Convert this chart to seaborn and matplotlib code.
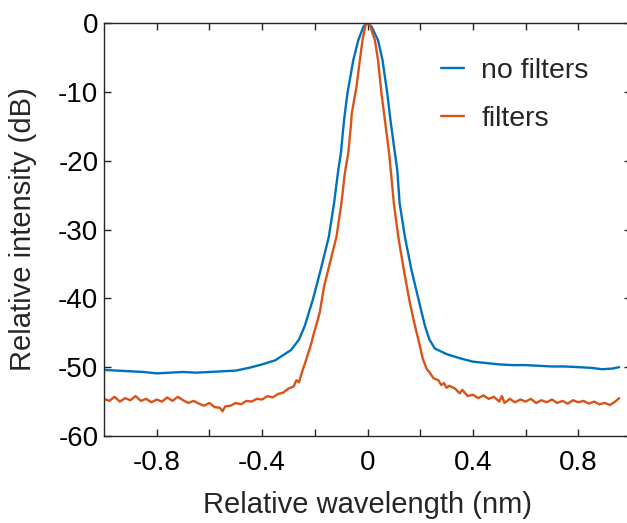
import numpy as np
import pandas as pd
import matplotlib
matplotlib.use("Agg")
import matplotlib.pyplot as plt
import seaborn as sns

# ---- data ----
nofilt_x = [-1.00, -0.95, -0.90, -0.85, -0.80, -0.75, -0.70, -0.65, -0.60, -0.55,
            -0.50, -0.45, -0.40, -0.35, -0.29, -0.26, -0.238, -0.206, -0.178, -0.147,
            -0.127, -0.111, -0.101, -0.089, -0.076, -0.054, -0.035, -0.015, 0.0, 0.015,
            0.04, 0.057, 0.075, 0.087, 0.104, 0.113, 0.122, 0.142, 0.167, 0.197,
            0.218, 0.235, 0.256, 0.30, 0.35, 0.40, 0.45, 0.50, 0.55, 0.60,
            0.65, 0.70, 0.75, 0.80, 0.85, 0.89, 0.93, 0.955]
nofilt_y = [-50.4, -50.5, -50.6, -50.7, -50.9, -50.8, -50.7, -50.8, -50.7, -50.6,
            -50.5, -50.1, -49.6, -49.0, -47.5, -46.0, -44.0, -40.0, -35.9, -31.1,
            -26.2, -21.4, -18.9, -14.1, -10.2, -5.4, -2.5, -0.5, 0.0, -0.5,
            -2.5, -5.4, -10.2, -14.1, -18.9, -21.4, -26.2, -31.1, -35.9, -40.7,
            -44.0, -46.0, -47.3, -48.1, -48.7, -49.2, -49.4, -49.6, -49.7, -49.7,
            -49.8, -49.9, -49.9, -50.0, -50.1, -50.3, -50.2, -50.0]

filt_x = [-1.00, -0.98, -0.96, -0.94, -0.92, -0.90, -0.88, -0.86, -0.84, -0.82,
          -0.80, -0.78, -0.76, -0.74, -0.72, -0.70, -0.68, -0.66, -0.64, -0.62,
          -0.60, -0.58, -0.56, -0.55, -0.54, -0.52, -0.50, -0.48, -0.46, -0.44,
          -0.42, -0.40, -0.38, -0.36, -0.34, -0.32, -0.30, -0.28, -0.27, -0.26,
          -0.25, -0.23, -0.213, -0.203, -0.19, -0.181, -0.165, -0.143, -0.118, -0.099,
          -0.086, -0.073, -0.062, -0.060, -0.042, -0.029, -0.019, -0.008, 0.0, 0.01,
          0.028, 0.04, 0.053, 0.066, 0.082, 0.091, 0.10, 0.117, 0.138, 0.161,
          0.177, 0.193, 0.21, 0.224, 0.24, 0.25, 0.269, 0.28, 0.29, 0.30,
          0.31, 0.332, 0.35, 0.36, 0.38, 0.40, 0.42, 0.44, 0.46, 0.48,
          0.50, 0.51, 0.52, 0.54, 0.56, 0.58, 0.60, 0.62, 0.64, 0.66,
          0.68, 0.70, 0.72, 0.74, 0.76, 0.78, 0.80, 0.82, 0.84, 0.86,
          0.88, 0.90, 0.92, 0.94, 0.955]
filt_y = [-54.6, -54.9, -54.3, -55.0, -54.5, -54.8, -54.2, -54.9, -54.6, -55.1,
          -54.7, -55.0, -54.4, -54.9, -54.3, -54.8, -55.2, -54.9, -55.3, -55.6,
          -55.2, -55.8, -55.9, -56.4, -55.7, -55.6, -55.2, -55.4, -54.9, -55.0,
          -54.6, -54.7, -54.2, -54.4, -53.9, -53.7, -53.1, -52.8, -51.9, -52.2,
          -50.9, -48.6, -46.5, -45.0, -43.3, -42.0, -38.3, -34.9, -31.1, -26.2,
          -21.8, -18.9, -14.5, -13.2, -9.3, -5.4, -2.5, -0.4, 0.0, -0.4,
          -2.5, -5.4, -10.2, -14.1, -18.9, -22.5, -26.2, -31.1, -35.9, -40.7,
          -43.5, -46.0, -48.8, -50.2, -51.0, -51.6, -51.9, -52.6, -52.3, -53.0,
          -52.7, -53.1, -53.8, -53.3, -54.2, -54.0, -54.5, -54.1, -54.6, -54.3,
          -55.0, -54.2, -55.2, -54.6, -55.1, -54.7, -55.0, -54.6, -55.2, -54.8,
          -55.1, -54.7, -55.2, -54.9, -55.3, -54.8, -55.1, -54.9, -55.3, -55.0,
          -55.4, -55.2, -55.5, -55.0, -54.5]

series_names = ["no filters", "filters"]
x_ticks = [-0.8, -0.6, -0.4, -0.2, 0.0, 0.2, 0.4, 0.6, 0.8]
x_tick_labels = ["-0.8", "", "-0.4", "", "0", "", "0.4", "", "0.8"]
y_ticks = [-60, -50, -40, -30, -20, -10, 0]
y_tick_labels = ["-60", "-50", "-40", "-30", "-20", "-10", "0"]

df = pd.concat([
    pd.DataFrame({"x": nofilt_x, "y": nofilt_y, "s": series_names[0]}),
    pd.DataFrame({"x": filt_x, "y": filt_y, "s": series_names[1]}),
])

sns.set_theme(style="ticks")
plt.rcParams["font.family"] = ["Liberation Sans", "DejaVu Sans"]

fig = plt.figure(figsize=(6.27, 5.23), dpi=100)
ax = fig.add_axes([104 / 627, 1 - 436 / 523, 527 / 627, 413 / 523])

palette = {"no filters": "#0072BD", "filters": "#D95319"}
sns.lineplot(data=df, x="x", y="y", hue="s", palette=palette, ax=ax,
             linewidth=1.7, sort=False, estimator=None)

ax.set_xlim(-1.0, 1.0)
ax.set_ylim(-60, 0)
ax.set_xticks(x_ticks)
ax.set_xticklabels(x_tick_labels)
ax.set_yticks(y_ticks)
ax.set_yticklabels(y_tick_labels)
ax.tick_params(direction="in", length=5, width=1, colors="#262626",
               labelsize=20, labelcolor="black", top=True, right=True)
ax.tick_params(axis="x", pad=10)
ax.tick_params(axis="y", pad=4)
for sp in ax.spines.values():
    sp.set_visible(True)
    sp.set_linewidth(1.0)
    sp.set_color("#262626")

ax.set_xlabel("Relative wavelength (nm)", fontsize=21, labelpad=11)
ax.set_ylabel("Relative intensity (dB)", fontsize=21, labelpad=15)

ax.legend(loc="upper left", bbox_to_anchor=(0.64, 0.915), frameon=False,
          fontsize=20.5, handlelength=0.8, handletextpad=0.6,
          labelspacing=0.78, borderpad=0, borderaxespad=0, title=None)

fig.savefig("out.png", dpi=100)
